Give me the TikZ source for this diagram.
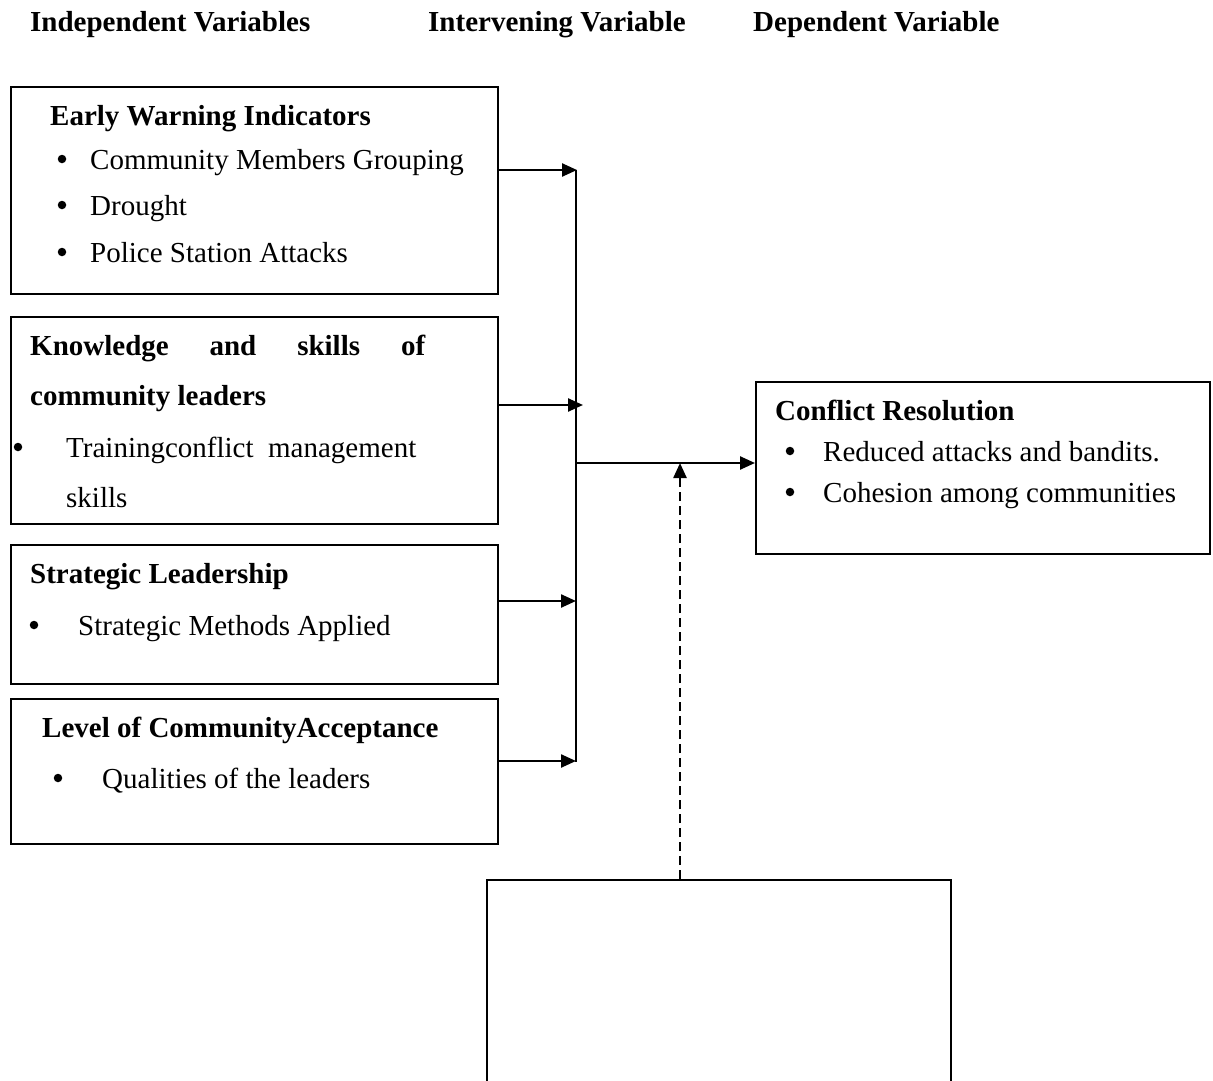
\documentclass[tikz,border=0pt]{standalone}
\usepackage{fontspec}
\setmainfont{Liberation Serif}
\usetikzlibrary{arrows.meta}
\begin{document}
\begin{tikzpicture}[x=1pt,y=-1pt,
  box/.style={draw, line width=1.8pt, anchor=north west, inner sep=0pt},
  txt/.style={anchor=base west, inner sep=0pt, font=\fontsize{29}{35}\selectfont},
  hd/.style={txt, font=\fontsize{29}{35}\selectfont\bfseries},
  dot/.style={circle, fill, inner sep=0pt, minimum size=8.5pt},
  arr/.style={line width=2.4pt, -{Triangle[length=15pt,width=13pt]}},
  bus/.style={line width=2.2pt}]
\useasboundingbox (0,0) rectangle (1213,1081);
\clip (0,0) rectangle (1213,1081);
\fill[white] (0,0) rectangle (1213,1081);

% column headings
\node[hd] (h1) at (30,32) {Independent Variables};
\node[hd] (h2) at (428,32) {Intervening Variable};
\node[hd] (h3) at (753,32) {Dependent Variable};

% independent variable boxes
\node[box, minimum width=487pt, minimum height=207pt] (b1) at (10,86) {};
\node[hd] (b1t) at (50,125) {Early Warning Indicators};
\node[dot] at (62,159) {};
\node[txt] at (90,169) {Community Members Grouping};
\node[dot] at (62,205) {};
\node[txt] at (90,215) {Drought};
\node[dot] at (62,252) {};
\node[txt] at (90,262) {Police Station Attacks};

\node[box, minimum width=487pt, minimum height=207pt] (b2) at (10,316) {};
\node[hd] at (30,355) {\makebox[395pt][s]{Knowledge and skills of}};
\node[hd] at (30,405) {community leaders};
\node[dot] at (18,447) {};
\node[txt] at (66,457) {Trainingconflict\ \ management};
\node[txt] at (66,507) {skills};

\node[box, minimum width=487pt, minimum height=139pt] (b3) at (10,544) {};
\node[hd] at (30,583) {Strategic Leadership};
\node[dot] at (34,625) {};
\node[txt] at (78,635) {Strategic Methods Applied};

\node[box, minimum width=487pt, minimum height=145pt] (b4) at (10,698) {};
\node[hd] at (42,737) {Level of CommunityAcceptance};
\node[dot] at (58,778) {};
\node[txt] at (102,788) {Qualities of the leaders};

% dependent variable box
\node[box, minimum width=454pt, minimum height=172pt] (cr) at (755,381) {};
\node[hd] at (775,420) {Conflict Resolution};
\node[dot] at (790,451) {};
\node[txt] at (823,461) {Reduced attacks and bandits.};
\node[dot] at (790,492) {};
\node[txt] at (823,502) {Cohesion among communities};

% intervening variable box
\node[box, minimum width=464pt, minimum height=260pt] (iv) at (486,879) {};

% junction points on the collecting line
\coordinate (j1) at (577,170);
\coordinate (j2) at (583,405);
\coordinate (j3) at (576,601);
\coordinate (j4) at (576,761);
\coordinate (bt) at (576,170);
\coordinate (bb) at (576,762);
\coordinate (jm) at (576,463);
\coordinate (dt) at (680,463);

\draw[arr] (b1.east |- j1) -- (j1);
\draw[arr] (b2.east |- j2) -- (j2);
\draw[arr] (b3.east |- j3) -- (j3);
\draw[arr] (b4.east |- j4) -- (j4);
\draw[bus] (bt) -- (bb);
\draw[arr] (jm) -- (cr.west |- jm);
\draw[arr, dash pattern=on 9pt off 5pt] (iv.north -| dt) -- (dt);
\end{tikzpicture}
\end{document}
